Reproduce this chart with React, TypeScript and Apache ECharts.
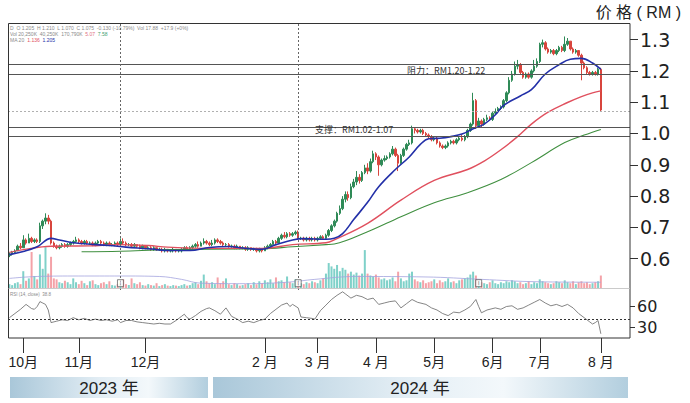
import React, { useEffect, useRef } from "react";
import * as echarts from "echarts";

// ---------------- data ----------------
const monthLabels = ["", "10月", "11月", "12月", "", "2 月", "3 月", "4 月", "5月", "6月", "7月", "8 月"];
const monthDays = [5, 20, 24, 22, 21, 19, 21, 21, 21, 17, 22, 1];
const padDays = 10;

// daily candles in sen: [open, close, low, high]
const candles: number[][] = [
  [61, 61.5, 60.5, 62], [61.5, 62, 61, 62.5], [62, 62.5, 61.5, 63], [62.5, 64, 62.5, 64.5], [64, 63.5, 63, 65],
  [63.5, 66, 63.5, 67.5], [66, 65, 64.5, 66.5], [65, 66.5, 65, 68], [66.5, 65.5, 65, 67], [65.5, 66, 65, 66.5],
  [66, 65.5, 65, 66.5], [65.5, 70.5, 65, 71.5], [70.5, 72, 69.5, 72.5], [72, 73, 71, 74.5], [73, 72, 71, 74],
  [72, 65, 64.5, 72.5], [65, 64, 63.5, 65.5], [64, 63.5, 63, 64.5], [63.5, 64, 63, 64.5], [64, 64.5, 63.5, 65],
  [64.5, 64, 63.5, 65], [64, 64.5, 63.5, 65], [64.5, 65, 64, 65.5], [65, 65.5, 64.5, 66], [65.5, 66, 65, 67],
  [66, 65.5, 65, 66.5], [65.5, 65, 64.5, 66], [65, 65.5, 64.5, 66], [65.5, 65, 64.5, 66], [65, 65, 64.5, 65.5],
  [65, 64.5, 64, 65.5], [64.5, 65, 64, 65.5], [65, 65.5, 64.5, 66], [65.5, 65, 64.5, 66], [65, 64.5, 64, 65.5],
  [64.5, 65, 64, 65.5], [65, 64.5, 64, 65.5], [64.5, 64.5, 64, 65], [64.5, 65, 64, 65.5], [65, 64.5, 64, 65.5],
  [64.5, 65.5, 64, 66.5], [65.5, 65, 64.5, 66.5], [65, 64.5, 64, 65.5], [64.5, 64.5, 64, 65], [64.5, 64, 63.5, 65],
  [64, 64.5, 63.5, 65], [64.5, 64, 63.5, 64.5], [64, 63.5, 63, 64.5], [63.5, 64, 63, 64.5], [64, 63.5, 63, 64],
  [63.5, 63.5, 63, 64], [63.5, 63, 62.5, 64], [63, 63.5, 62.5, 64], [63.5, 63, 62.5, 63.5], [63, 63, 62.5, 63.5],
  [63, 62.5, 62, 63.5], [62.5, 63, 62, 63.5], [63, 62.5, 62, 63], [62.5, 62.5, 62, 63], [62.5, 63, 62, 63.5],
  [63, 62.5, 62, 63], [62.5, 62.5, 62, 63], [62.5, 63, 62, 63.5], [63, 63.5, 62.5, 64], [63.5, 63, 62.5, 64],
  [63, 63.5, 62.5, 64], [63.5, 64, 63, 64.5], [64, 64.5, 63.5, 65], [64.5, 64, 63.5, 65.5], [64, 65, 64, 65.5],
  [65, 65.5, 64.5, 66.5], [65.5, 65, 64.5, 66], [65, 64.5, 64, 65.5], [64.5, 65, 64, 66], [65, 66, 64.5, 66.5],
  [66, 65.5, 65, 66.5], [65.5, 65, 64.5, 66], [65, 64.5, 64, 65.5], [64.5, 64.5, 64, 65], [64.5, 64, 63.5, 65],
  [64, 64, 63.5, 64.5], [64, 63.5, 63, 64.5], [63.5, 64, 63, 64.5], [64, 63.5, 63, 64], [63.5, 63.5, 63, 64],
  [63.5, 63, 62.5, 64], [63, 63.5, 62.5, 64], [63.5, 63, 62.5, 63.5], [63, 63, 62.5, 63.5], [63, 62.5, 62, 63.5],
  [62.5, 63, 62, 63.5], [63, 62.5, 62, 63], [62.5, 63.5, 62.5, 64], [63.5, 64, 63, 64.5], [64, 64.5, 63.5, 65],
  [64.5, 65.5, 64.5, 66], [65.5, 65, 64.5, 66], [65, 66.5, 65, 67], [66.5, 67.5, 66, 68], [67.5, 67, 66.5, 68.5],
  [67, 68, 66.5, 68.5], [68, 67.5, 67, 68.5], [67.5, 68, 67, 68.5], [68, 68.5, 67.5, 69], [68.5, 66.5, 66, 69],
  [66.5, 66.5, 66, 67], [66.5, 66, 65.5, 67], [66, 66.5, 65.5, 67], [66.5, 66, 65.5, 67], [66, 66.5, 65.5, 67],
  [66.5, 66, 65.5, 67], [66, 66.5, 65.5, 67], [66.5, 67, 66, 67.5], [67, 66.5, 66, 67.5], [66.5, 67.5, 66, 68],
  [67.5, 69, 67, 69.5], [69, 70.5, 68.5, 71], [70.5, 72, 70, 72.5], [72, 74.5, 71.5, 75], [74.5, 76, 74, 77],
  [76, 79, 75.5, 80], [79, 80.5, 78, 81.5], [80.5, 79.5, 78.5, 81.5], [79.5, 83, 79, 84], [83, 84.5, 82.5, 85.5],
  [84.5, 86, 83.5, 88], [86, 85, 84, 87], [85, 87.5, 84.5, 88], [87.5, 89, 87, 90], [89, 88, 87, 90.5],
  [88, 91, 87.5, 92], [91, 93.5, 90.5, 94.5], [93.5, 92.5, 91.5, 94], [92.5, 90, 86.5, 93], [90, 91.5, 89.5, 92],
  [91.5, 92, 91, 93], [92, 92.5, 91.5, 93], [92.5, 93.5, 92, 94], [93.5, 95, 93, 96], [95, 93, 92.5, 95.5],
  [93, 90.5, 88, 93.5], [90.5, 93, 90, 93.5], [93, 95, 92.5, 95.5], [95, 96.5, 94.5, 97], [96.5, 97, 96, 98],
  [97, 101.5, 96.5, 102.5], [101.5, 101, 100, 102], [101, 100.5, 100, 101.5], [100.5, 101, 100, 101.5], [101, 100, 99.5, 101.5],
  [100, 99.5, 99, 100.5], [99.5, 99, 98.5, 100], [99, 98, 97.5, 99.5], [98, 98.5, 97.5, 99], [98.5, 97, 96.5, 99],
  [97, 96, 95.5, 97.5], [96, 95.5, 95, 96.5], [95.5, 96, 95, 96.5], [96, 97, 95.5, 97.5], [97, 97.5, 96.5, 98],
  [97.5, 97, 96.5, 98], [97, 98, 96.5, 98.5], [98, 98.5, 97.5, 99], [98.5, 98, 97.5, 99.5], [98, 99, 97.5, 99.5],
  [99, 101, 98.5, 101.5], [101, 103, 100.5, 103.5], [103, 110.5, 102.5, 113], [110.5, 102.5, 101.5, 111], [102.5, 104, 102, 105],
  [104, 103, 102, 104.5], [103, 104.5, 102.5, 105], [104.5, 105, 104, 106], [105, 104.5, 104, 105.5], [104.5, 106.5, 104, 107],
  [106.5, 107, 106, 108], [107, 108, 106.5, 108.5], [108, 108.5, 107.5, 109], [108.5, 110.5, 108, 111], [110.5, 113, 110, 113.5],
  [113, 117, 112.5, 118], [117, 119, 116.5, 120], [119, 121.5, 118.5, 123], [121.5, 122, 120.5, 123.5], [122, 119.5, 119, 122.5],
  [119.5, 118, 117.5, 120], [118, 119, 117.5, 119.5], [119, 118, 117.5, 119.5], [118, 120, 117.5, 120.5], [120, 121.5, 119.5, 123.5],
  [121.5, 123, 121, 124], [123, 128.5, 122.5, 129], [128.5, 129, 127.5, 130], [129, 127, 126.5, 129.5], [127, 126, 125.5, 127.5],
  [126, 126.5, 125.5, 127], [126.5, 125.5, 125, 127], [125.5, 126.5, 125, 127], [126.5, 127.5, 126, 128], [127.5, 126.5, 126, 128],
  [126.5, 128.5, 126, 131], [128.5, 129.5, 128, 130.5], [129.5, 127, 126.5, 129.5], [127, 126, 125.5, 127.5], [126, 126.5, 125.5, 127],
  [126.5, 125, 124.5, 126.5], [125, 122.5, 117, 125.5], [122.5, 121, 120.5, 123], [121, 119.5, 119, 121.5], [119.5, 119, 118.5, 120],
  [119, 119.5, 118.5, 120], [119.5, 119, 118.5, 120], [119, 120.5, 118.5, 121], [120.5, 107.5, 107, 121],
];

// daily volume (relative units)
const volumes: number[] = [
  8, 6, 10, 12, 8, 35, 15, 20, 75, 25,
  18, 70, 40, 85, 30, 65, 20, 18, 12, 10,
  15, 12, 8, 20, 12, 8, 15, 10, 6, 14,
  16, 8, 6, 10, 12, 8, 14, 6, 5, 8,
  10, 18, 8, 6, 20, 10, 8, 12, 6, 5,
  8, 6, 5, 10, 4, 6, 8, 5, 4, 6,
  5, 4, 6, 8, 5, 6, 10, 12, 8, 15,
  28, 14, 10, 12, 8, 22, 10, 14, 20, 8,
  6, 10, 8, 5, 6, 8, 10, 6, 12, 8,
  14, 10, 16, 12, 18, 10, 22, 14, 16, 12,
  24, 12, 10, 18, 14, 10, 8, 12, 10, 14,
  12, 10, 16, 20, 30, 52, 45, 40, 48, 35,
  42, 38, 30, 34, 28, 32, 26, 30, 79, 30,
  26, 24, 28, 22, 18, 20, 16, 18, 22, 14,
  34, 20, 14, 16, 30, 34, 18, 14, 12, 16,
  10, 12, 14, 18, 10, 16, 12, 14, 20, 12,
  14, 10, 16, 18, 20, 22, 28, 34, 26, 14,
  12, 10, 8, 12, 16, 10, 8, 12, 10, 14,
  12, 16, 14, 10, 12, 8, 10, 14, 8, 12,
  10, 18, 14, 12, 10, 8, 10, 14, 12, 10,
  16, 12, 10, 14, 8, 12, 14, 10, 12, 8,
  10, 12, 14, 26,
];

// moving averages: [day index, RM]
const maBlue: number[][] = [
  [0, 0.613], [5, 0.623], [10, 0.638], [15, 0.665], [18, 0.66], [24, 0.65], [36, 0.642], [42, 0.637],
  [50, 0.632], [58, 0.626], [65, 0.626], [72, 0.636], [79, 0.639], [84, 0.634], [91, 0.63], [96, 0.645],
  [102, 0.66], [106, 0.664], [114, 0.662], [117, 0.665], [120, 0.68], [124, 0.725], [129, 0.78], [133, 0.83],
  [139, 0.885], [144, 0.925], [148, 0.965], [151, 0.983], [155, 0.985], [159, 0.99], [163, 0.998], [167, 1.015],
  [171, 1.03], [175, 1.06], [178, 1.09], [184, 1.12], [188, 1.14], [193, 1.19], [198, 1.22], [202, 1.237],
  [206, 1.24], [210, 1.225], [213, 1.205],
];
const maRed: number[][] = [
  [0, 0.62], [5, 0.629], [15, 0.64], [29, 0.641], [39, 0.645], [50, 0.642], [57, 0.637], [72, 0.633],
  [91, 0.633], [102, 0.645], [114, 0.651], [117, 0.66], [129, 0.713], [141, 0.787], [153, 0.85], [165, 0.885],
  [171, 0.912], [177, 0.948], [183, 0.99], [188, 1.03], [194, 1.068], [201, 1.099], [206, 1.118], [210, 1.13],
  [213, 1.136],
];
const maGreen: number[][] = [
  [26, 0.622], [40, 0.624], [57, 0.629], [91, 0.632], [102, 0.638], [114, 0.645], [117, 0.647], [129, 0.686],
  [141, 0.734], [153, 0.779], [165, 0.811], [177, 0.853], [188, 0.907], [200, 0.971], [207, 0.995], [213, 1.013],
];
const volMa: number[][] = [
  [0, 20], [10, 24], [25, 25], [40, 25], [54, 24], [62, 18], [69, 10], [85, 9], [100, 12], [110, 18],
  [125, 24], [150, 23], [170, 18], [190, 13], [213, 12],
];
const rsi: number[][] = [
  [0, 44], [2, 50], [4, 56], [6, 63], [8, 57], [9, 56], [10, 60], [11, 67], [12, 65], [13, 63], [14, 55], [15, 37],
  [17, 39], [19, 41], [21, 40], [23, 44], [25, 41], [27, 43], [29, 40], [31, 42], [33, 40], [35, 41], [37, 39],
  [39, 41], [40, 37], [42, 40], [44, 40], [46, 38], [48, 37], [50, 36], [52, 35], [54, 36], [56, 35], [58, 35],
  [60, 40], [62, 46], [63, 49], [64, 44], [65, 42], [67, 47], [69, 53], [71, 57], [72, 58], [74, 54], [76, 49],
  [78, 58], [80, 46], [82, 42], [84, 37], [86, 39], [88, 37], [90, 40], [92, 42], [94, 50], [96, 56], [98, 62],
  [100, 65], [101, 60], [102, 63], [104, 58], [105, 45], [107, 44], [109, 43], [110, 42], [112, 54], [114, 62],
  [116, 70], [118, 76], [120, 81], [121, 78], [123, 72], [125, 76], [127, 74], [129, 70], [131, 72], [133, 63],
  [135, 65], [137, 67], [139, 68], [141, 58], [143, 64], [145, 70], [147, 66], [149, 64], [150, 63], [152, 58],
  [154, 55], [156, 50], [158, 47], [160, 52], [162, 51], [164, 55], [166, 60], [168, 70], [169, 60], [170, 51],
  [172, 55], [175, 58], [177, 56], [179, 60], [181, 61], [183, 56], [185, 58], [187, 62], [189, 66], [191, 70],
  [193, 65], [195, 61], [197, 63], [199, 60], [201, 63], [203, 58], [205, 50], [207, 44], [209, 38], [210, 35],
  [211, 37], [212, 40], [213, 21],
];

const resistanceLines = [1.217, 1.185];
const supportLines = [1.025, 0.995];
const lastPrice = 1.075;
const eventDays = [40, 104, 169];
const dashedDays = [40, 104];
const priceTicks = [0.6, 0.7, 0.8, 0.9, 1.0, 1.1, 1.2, 1.3];
const rsiTicks = [30, 60];
const rsiMid = 42;
const resistanceText = "阻力：RM1.20-1.22";
const supportText = "支撑：RM1.02-1.07";
const yearLabels = ["2023 年", "2024 年"];
const unitTitle = "价 格 ( RM )";

// ---------------- build ----------------
const categories: string[] = [];
const labelByCat: Record<string, string> = {};
monthDays.forEach((n, m) => {
  for (let d = 0; d < n; d++) {
    const c = `m${m}d${d}`;
    categories.push(c);
    if (d === 0 && monthLabels[m]) labelByCat[c] = monthLabels[m];
  }
});
for (let i = 0; i < padDays; i++) categories.push(`pad${i}`);
const tickIdx = new Set<number>();
categories.forEach((c, i) => { if (labelByCat[c]) tickIdx.add(i); });

const UP = "#2f8a57";
const DOWN = "#d8453d";
const VUP = "#7fd1c9";
const VDOWN = "#f4a2a8";

const FONT = "'Liberation Sans', 'Noto Sans CJK SC', sans-serif";
const CJK = "'Noto Sans CJK SC', 'Liberation Sans', sans-serif";

export default function App() {
  const ref = useRef<HTMLDivElement>(null);
  useEffect(() => {
    if (!ref.current) return;
    const chart = echarts.init(ref.current, undefined, { renderer: "svg" });

    const kData = candles.map((c) => [c[0] / 100, c[1] / 100, c[2] / 100, c[3] / 100]);
    const volData = volumes.map((v, i) => ({
      value: v,
      itemStyle: { color: candles[i][1] >= candles[i][0] ? VUP : VDOWN },
    }));

    const bandGrad = () =>
      new echarts.graphic.LinearGradient(0, 0, 1, 0, [
        { offset: 0, color: "#a9c7d9" },
        { offset: 0.45, color: "#e2edf4" },
        { offset: 0.7, color: "#f3f8fb" },
        { offset: 1, color: "#b2cede" },
      ]);

    const hLine = (v: number, color: string, type: any) => ({
      yAxis: v,
      lineStyle: { color, width: 1, type },
    });

    const option: any = {
      animation: false,
      backgroundColor: "#ffffff",
      grid: [
        { left: 8, top: 23, width: 622, height: 267 },
        { left: 8, top: 240, width: 622, height: 48 },
        { left: 8, top: 289, width: 622, height: 49 },
      ],
      xAxis: [0, 1, 2].map((i) => ({
        type: "category",
        gridIndex: i,
        data: categories,
        boundaryGap: true,
        show: i === 2,
        axisLine: { show: false },
        axisTick:
          i === 2
            ? {
                show: true,
                length: 15,
                alignWithLabel: true,
                interval: (idx: number) => tickIdx.has(idx),
                lineStyle: { color: "#333", width: 1 },
              }
            : { show: false },
        axisLabel:
          i === 2
            ? {
                show: true,
                interval: (idx: number) => tickIdx.has(idx),
                formatter: (v: string) => labelByCat[v] || "",
                margin: 17,
                fontSize: 14,
                color: "#222",
                fontFamily: FONT,
              }
            : { show: false },
        splitLine: { show: false },
      })),
      yAxis: [
        {
          type: "value",
          gridIndex: 0,
          position: "right",
          min: 0.5,
          max: 1.353,
          interval: 0.1,
          axisLine: { show: false },
          axisTick: { show: true, length: 8, customValues: priceTicks, lineStyle: { color: "#333" } },
          axisLabel: {
            customValues: priceTicks,
            formatter: (v: number) => (v < 0.55 ? "" : v.toFixed(1)),
            margin: 10,
            fontSize: 19,
            color: "#222",
            fontFamily: "'DejaVu Sans', sans-serif",
          },
          splitLine: { show: false },
        },
        { type: "value", gridIndex: 1, min: 0, max: 100, show: false, splitLine: { show: false } },
        {
          type: "value",
          gridIndex: 2,
          position: "right",
          min: 15,
          max: 85,
          axisLine: { show: false },
          axisTick: { show: true, length: 5, customValues: rsiTicks, lineStyle: { color: "#333" } },
          axisLabel: {
            customValues: rsiTicks,
            margin: 7,
            fontSize: 16,
            color: "#222",
            fontFamily: "'DejaVu Sans', sans-serif",
          },
          splitLine: { show: false },
        },
      ],
      series: [
        {
          type: "bar",
          name: "vol",
          xAxisIndex: 1,
          yAxisIndex: 1,
          data: volData,
          barWidth: 2,
          silent: true,
        },
        {
          type: "line",
          name: "volma",
          xAxisIndex: 1,
          yAxisIndex: 1,
          data: volMa,
          smooth: 0.4,
          symbol: "none",
          lineStyle: { color: "#a3a3de", width: 0.8 },
          silent: true,
        },
        {
          type: "scatter",
          name: "event",
          xAxisIndex: 1,
          yAxisIndex: 1,
          data: eventDays.map((d) => [categories[d], 10]),
          symbol: "rect",
          symbolSize: [6, 7],
          itemStyle: { color: "#ffffff", borderColor: "#444", borderWidth: 0.8 },
          label: { show: true, position: "inside", formatter: "I", fontSize: 5, color: "#333" },
          silent: true,
          z: 5,
        },
        {
          type: "candlestick",
          name: "price",
          xAxisIndex: 0,
          yAxisIndex: 0,
          data: kData,
          barWidth: 2,
          itemStyle: { color: UP, color0: DOWN, borderColor: UP, borderColor0: DOWN, borderWidth: 1 },
          markLine: {
            silent: true,
            symbol: ["none", "none"],
            label: { show: false },
            animation: false,
            data: [
              ...resistanceLines.map((v) => hLine(v, "#555", "solid")),
              ...supportLines.map((v) => hLine(v, "#555", "solid")),
              hLine(lastPrice, "#b0b0b0", [2, 2]),
              ...dashedDays.map((d) => ({
                xAxis: categories[d],
                lineStyle: { color: "#666", width: 1, type: [2, 2] },
              })),
            ],
          },
          z: 3,
        },
        {
          type: "line",
          name: "ma100",
          xAxisIndex: 0,
          yAxisIndex: 0,
          data: maGreen,
          smooth: 0.4,
          symbol: "none",
          lineStyle: { color: "#3f8f3f", width: 1.1 },
          silent: true,
          z: 4,
        },
        {
          type: "line",
          name: "ma50",
          xAxisIndex: 0,
          yAxisIndex: 0,
          data: maRed,
          smooth: 0.4,
          symbol: "none",
          lineStyle: { color: "#e0505e", width: 1.4 },
          silent: true,
          z: 4,
        },
        {
          type: "line",
          name: "ma20",
          xAxisIndex: 0,
          yAxisIndex: 0,
          data: maBlue,
          smooth: 0.4,
          symbol: "none",
          lineStyle: { color: "#2330a8", width: 1.6 },
          silent: true,
          z: 4,
        },
        {
          type: "line",
          name: "rsi",
          xAxisIndex: 2,
          yAxisIndex: 2,
          data: rsi,
          symbol: "none",
          lineStyle: { color: "#666", width: 0.8 },
          silent: true,
          markLine: {
            silent: true,
            symbol: ["none", "none"],
            label: { show: false },
            data: [{ yAxis: rsiMid, lineStyle: { color: "#333", width: 1, type: [2, 2] } }],
          },
        },
      ],
      graphic: [
        // frame
        {
          type: "rect",
          shape: { x: 8.5, y: 23.5, width: 621.5, height: 314.5 },
          style: { fill: "none", stroke: "#333", lineWidth: 1 },
          silent: true,
          z: 10,
        },
        {
          type: "line",
          shape: { x1: 8.5, y1: 288.5, x2: 630, y2: 288.5 },
          style: { stroke: "#bdbdbd", lineWidth: 0.8 },
          silent: true,
          z: 10,
        },
        // unit title
        {
          type: "text",
          x: 681,
          y: 12,
          style: { text: unitTitle, fill: "#222", font: `16px ${FONT}`, align: "right", verticalAlign: "middle" },
          silent: true,
        },
        // legend micro texts
        {
          type: "text",
          left: 10,
          top: 25,
          style: { text: "D  O 1.205  H 1.210  L 1.070  C 1.075  -0.130 (-10.79%)  Vol 17.88  +17.9 (+0%)", font: `5px ${FONT}`, fill: "#8a8a8a" },
          silent: true,
        },
        {
          type: "text",
          left: 10,
          top: 31,
          style: {
            text: "{g|Vol 20,250K  40,250K  170,790K}  {r|5.07}  {t|7.58}",
            font: `5px ${FONT}`,
            fill: "#8a8a8a",
            rich: { g: { fill: "#8a8a8a", fontSize: 5 }, r: { fill: "#e07080", fontSize: 5 }, t: { fill: "#40a070", fontSize: 5 } },
          },
          silent: true,
        },
        {
          type: "text",
          left: 10,
          top: 37,
          style: {
            text: "{g|MA 20}  {r|1.136}  {b|1.205}",
            font: `5px ${FONT}`,
            fill: "#8a8a8a",
            rich: { g: { fill: "#8a8a8a", fontSize: 5 }, r: { fill: "#e0505e", fontSize: 5 }, b: { fill: "#2330a8", fontSize: 5 } },
          },
          silent: true,
        },
        {
          type: "text",
          left: 10,
          top: 292,
          style: { text: "RSI (14, close)  38.8", font: `4.5px ${FONT}`, fill: "#8a8a8a" },
          silent: true,
        },
        // annotations
        {
          type: "text",
          left: 407,
          top: 66,
          style: { text: resistanceText, font: `9px ${CJK}`, fill: "#333" },
          silent: true,
          z: 11,
        },
        {
          type: "text",
          left: 315,
          top: 125,
          style: { text: supportText, font: `9px ${CJK}`, fill: "#333" },
          silent: true,
          z: 11,
        },
        // year bands
        {
          type: "rect",
          shape: { x: 10, y: 377, width: 198, height: 21 },
          style: { fill: bandGrad() },
          silent: true,
        },
        {
          type: "rect",
          shape: { x: 213, y: 377, width: 415, height: 21 },
          style: { fill: bandGrad() },
          silent: true,
        },
        {
          type: "text",
          x: 109,
          y: 388,
          style: { text: yearLabels[0], font: `17px ${FONT}`, fill: "#222", align: "center", verticalAlign: "middle" },
          silent: true,
          z: 11,
        },
        {
          type: "text",
          x: 420,
          y: 388,
          style: { text: yearLabels[1], font: `17px ${FONT}`, fill: "#222", align: "center", verticalAlign: "middle" },
          silent: true,
          z: 11,
        },
      ],
    };

    chart.setOption(option);
    return () => chart.dispose();
  }, []);

  return (
    <div
      ref={ref}
      style={{ position: "fixed", left: 0, top: 0, width: 690, height: 403, background: "#fff" }}
    />
  );
}
